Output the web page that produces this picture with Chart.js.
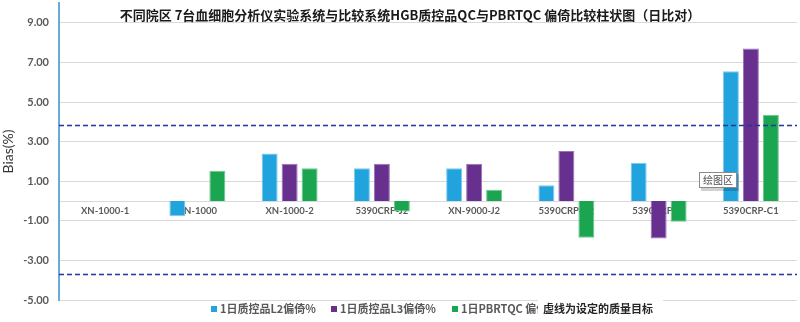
<!DOCTYPE html>
<html>
<head>
<meta charset="utf-8">
<script src="https://cdn.jsdelivr.net/npm/chart.js@4"></script>
<style>
html,body{margin:0;padding:0;background:#fff;}
#wrap{width:800px;height:322px;position:relative;}
</style>
</head>
<body>
<div id="wrap"><canvas id="c" width="800" height="322"></canvas></div>
<script>
const categories = ['XN-1000-1','XN-1000','XN-1000-2','5390CRP-J2','XN-9000-J2','5390CRP-C2','5390CRP-J1','5390CRP-C1'];
const seriesNames = ['1日质控品L2偏倚%','1日质控品L3偏倚%','1日PBRTQC 偏倚%'];
const qcL2 = [0, -0.77, 2.40, 1.65, 1.65, 0.80, 1.92, 6.55];
const qcL3 = [0, 0, 1.88, 1.88, 1.88, 2.52, -1.90, 7.70];
const pbrtqc = [0, 1.53, 1.65, -0.53, 0.57, -1.86, -1.05, 4.36];
const yTicks = [-5, -3, -1, 1, 3, 5, 7, 9];
const qualityLimits = [3.85, -3.70];
const titleText = '不同院区 7台血细胞分析仪实验系统与比较系统HGB质控品QC与PBRTQC 偏倚比较柱状图（日比对）';
const noteText = '虚线为设定的质量目标';
const tooltipText = '绘图区';

const colors = ['#21A3DE', '#67308F', '#1BA550'];
const borders = ['#7CCAEE', '#9A72B5', '#6CC892'];

const extras = {
  id: 'extras',
  beforeDraw(chart) {
    const ctx = chart.ctx;
    ctx.save();
    ctx.fillStyle = '#fff';
    ctx.fillRect(0, 0, chart.width, chart.height);
    ctx.restore();
  },
  afterDatasetsDraw(chart) {
    const ctx = chart.ctx, y = chart.scales.y, a = chart.chartArea;
    ctx.save();
    ctx.strokeStyle = '#22379A';
    ctx.lineWidth = 1.6;
    ctx.setLineDash([5, 3]);
    qualityLimits.forEach(v => {
      const py = Math.round(y.getPixelForValue(v)) + 0.5;
      ctx.beginPath();
      ctx.moveTo(a.left, py);
      ctx.lineTo(a.right, py);
      ctx.stroke();
    });
    ctx.restore();
  },
  afterDraw(chart) {
    const ctx = chart.ctx;
    ctx.save();
    ctx.font = 'bold 13px "Noto Sans CJK SC", sans-serif';
    ctx.fillStyle = '#1a1a1a';
    ctx.textAlign = 'center';
    ctx.textBaseline = 'middle';
    ctx.fillText(titleText, 410, 15);
    ctx.textAlign = 'left';
    ctx.font = 'bold 11px "Noto Sans CJK SC", sans-serif';
    const lx = [211, 331, 452];
    seriesNames.forEach((n, i) => {
      ctx.fillStyle = colors[i];
      ctx.fillRect(lx[i], 306, 6, 6);
      ctx.fillStyle = '#595959';
      ctx.fillText(n, lx[i] + 9, 309);
    });
    ctx.fillStyle = '#fff';
    ctx.fillRect(538, 295, 125, 27);
    ctx.fillStyle = '#262626';
    ctx.font = 'bold 11px "Noto Sans CJK SC", sans-serif';
    ctx.fillText(noteText, 543, 309);
    ctx.fillStyle = 'rgba(0,0,0,0.18)';
    ctx.fillRect(701, 174, 38, 17);
    ctx.fillStyle = '#fff';
    ctx.fillRect(699, 172, 38, 16);
    ctx.strokeStyle = '#8a8a8a';
    ctx.lineWidth = 1;
    ctx.strokeRect(699.5, 172.5, 37, 15);
    ctx.fillStyle = '#505050';
    ctx.font = '10px "Noto Sans CJK SC", sans-serif';
    ctx.fillText(tooltipText, 703, 180.5);
    ctx.restore();
  }
};

new Chart(document.getElementById('c'), {
  type: 'bar',
  data: {
    labels: categories,
    datasets: [qcL2, qcL3, pbrtqc].map((d, i) => ({
      label: seriesNames[i],
      data: d,
      backgroundColor: colors[i],
      borderColor: borders[i],
      borderWidth: 1,
      barPercentage: 0.8,
      categoryPercentage: 0.65
    }))
  },
  options: {
    responsive: false,
    animation: false,
    devicePixelRatio: 1,
    layout: { padding: { top: 3, right: 3, bottom: 22, left: 0 } },
    plugins: { legend: { display: false }, tooltip: { enabled: false }, title: { display: false } },
    scales: {
      x: {
        position: { y: 0 },
        afterFit(s) { s.height = 0; s.paddingLeft = 0; s.paddingRight = 0; },
        grid: { display: false, drawTicks: false },
        border: { display: true, color: '#D9D9D9', width: 1 },
        ticks: { color: '#595959', font: { family: 'Lato', size: 9.5, weight: 'bold' }, padding: 4, maxRotation: 0, autoSkip: false }
      },
      y: {
        min: -5,
        max: 10,
        afterBuildTicks(s) { s.ticks = yTicks.map(v => ({ value: v })); },
        afterFit(s) { s.width = 59; s.paddingTop = 0; s.paddingBottom = 0; },
        grid: { color: '#D9D9D9', lineWidth: 1, drawTicks: false },
        border: { display: true, color: '#6AAAD8', width: 2 },
        ticks: {
          color: '#595959',
          padding: 10,
          font: { family: 'Lato', size: 11, weight: 'bold' },
          callback: v => Number(v).toFixed(2)
        },
        title: { display: true, text: 'Bias(%)', color: '#333333', font: { family: 'Lato', size: 14 }, padding: { top: 0, bottom: 0 } }
      }
    }
  },
  plugins: [extras]
});
</script>
</body>
</html>
